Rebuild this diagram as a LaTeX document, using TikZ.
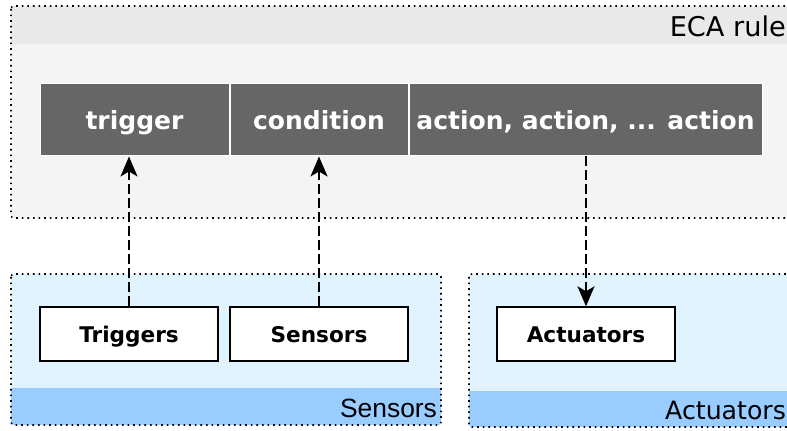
\documentclass[tikz,border=0pt]{standalone}
\usepackage{fontspec}
\setmainfont{DejaVu Sans}
\newfontfamily\arialfont{Liberation Sans}
\usepackage{xcolor}
\usepackage{tikz}
\usetikzlibrary{arrows.meta, positioning}
\definecolor{rulebody}{HTML}{F4F4F4}
\definecolor{rulehead}{HTML}{E9E9E9}
\definecolor{partgray}{HTML}{666666}
\definecolor{devbody}{HTML}{E0F3FF}
\definecolor{devband}{HTML}{99CCFF}
\tikzstyle{part}=[rectangle, draw=white, line width=0.5pt, fill=partgray, text=white, font=\fontsize{12.5}{14}\selectfont\bfseries, minimum height=36pt, inner sep=0pt, text height=11.5pt, text depth=1.5pt]
\tikzstyle{device}=[rectangle, draw=black, line width=0.7pt, fill=white, font=\fontsize{10.8}{12}\selectfont\bfseries, minimum width=89pt, minimum height=27pt, inner sep=0pt, text height=10pt, text depth=1.5pt]
\tikzstyle{panel}=[draw=black, dotted, line width=0.8pt, rounded corners=1.5pt]
\tikzstyle{link}=[dash pattern=on 5pt off 2pt, line width=1pt, -{Stealth[length=10pt, width=8.5pt, inset=2.5pt]}]

\begin{document}
\begin{tikzpicture}[x=0.5pt, y=-0.5pt]
\useasboundingbox (0,0) rectangle (787,431);
\clip (0,0) rectangle (787,431);

% ECA rule panel
\fill[rulebody, rounded corners=1.5pt] (11,6) rectangle (800,218);
\begin{scope}
\clip[rounded corners=1.5pt] (11,6) rectangle (800,218);
\fill[rulehead] (11,6) rectangle (800,44);
\end{scope}
\draw[panel] (11,6) rectangle (800,218);
\node[anchor=east, font=\fontsize{13.6}{15}\selectfont] (rulelabel) at (793,26) {ECA rule};

% Sensors panel
\fill[devbody, rounded corners=1.5pt] (11,274) rectangle (441,425);
\begin{scope}
\clip[rounded corners=1.5pt] (11,274) rectangle (441,425);
\fill[devband] (11,388) rectangle (441,425);
\end{scope}
\draw[panel] (11,274) rectangle (441,425);
\node[anchor=east, font=\arialfont\fontsize{13.2}{15}\selectfont] (sensorlabel) at (444,408) {Sensors};

% Actuators panel
\fill[devbody, rounded corners=1.5pt] (469,274) rectangle (800,427);
\begin{scope}
\clip[rounded corners=1.5pt] (469,274) rectangle (800,427);
\fill[devband] (469,391) rectangle (800,427);
\end{scope}
\draw[panel] (469,274) rectangle (800,427);
\node[anchor=east, font=\fontsize{12.6}{15}\selectfont] (actuatorlabel) at (793,410) {Actuators};

% rule parts
\node[part, minimum width=94.5pt] (trigger) at (134.5,120) {trigger};
\node[part, minimum width=89pt, right=0pt of trigger] (condition) {condition};
\node[part, minimum width=176.5pt, right=0pt of condition] (action) {action, action, ... action};

% devices
\node[device] (triggers) at (129,334) {Triggers};
\node[device] (sensors) at (319,334) {Sensors};
\node[device] (actuators) at (586,334) {Actuators};

\draw[link] (triggers.north) -- (triggers.north |- trigger.south);
\draw[link] (sensors.north) -- (sensors.north |- condition.south);
\draw[link] (action.south -| actuators.north) -- (actuators.north);

\end{tikzpicture}
\end{document}
